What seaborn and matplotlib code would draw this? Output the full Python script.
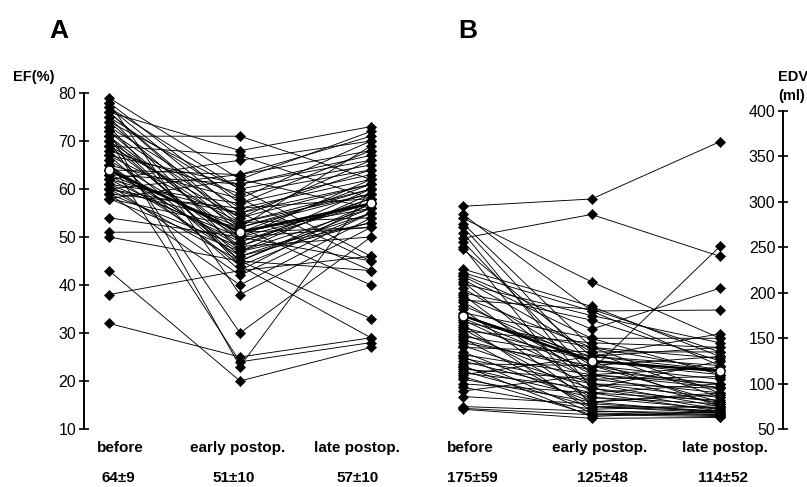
"""Individual EF and EDV courses before and after surgery (panels A and B)."""

import matplotlib

matplotlib.use("Agg")
import matplotlib.pyplot as plt
import pandas as pd
import seaborn as sns

W, H = 807, 487

time_labels = ["before", "early postop.", "late postop."]

# panel A: ejection fraction (%) per patient
ef_before = [79, 78, 78, 77, 77, 76, 76, 75, 75, 74, 74, 73, 73, 72, 72, 71,
             71, 70, 70, 70, 69, 69, 68, 68, 67, 67, 66, 66, 65, 65, 64, 64,
             63, 63, 63, 62, 62, 62, 61, 61, 61, 60, 60, 60, 59, 59, 59, 58,
             58, 58, 54, 51, 50, 43, 38, 32, 72, 69, 65, 67, 64, 60, 76, 71]
ef_early = [62, 57, 38, 55, 60, 68, 53, 47, 58, 60, 51, 56, 44, 23, 54, 71,
            50, 30, 52, 46, 67, 48, 45, 59, 53, 43, 24, 50, 58, 47, 63, 51,
            52, 61, 46, 66, 49, 55, 42, 57, 50, 63, 45, 53, 48, 56, 40, 52,
            62, 47, 50, 51, 45, 20, 43, 25, 49, 54, 44, 61, 48, 55, 52, 45]
ef_late = [72, 68, 52, 43, 65, 73, 59, 56, 70, 46, 61, 58, 29, 60, 66, 62,
           57, 50, 69, 55, 58, 60, 33, 64, 54, 57, 28, 62, 45, 59, 71, 56,
           40, 67, 53, 70, 58, 61, 55, 63, 52, 68, 57, 60, 50, 62, 54, 59,
           56, 53, 45, 52, 43, 27, 46, 29, 57, 61, 55, 66, 58, 64, 60, 56]
ef_mean = [64, 51, 57]
ef_summary = ["64±9", "51±10", "57±10"]
ef_ticks = [10, 20, 30, 40, 50, 60, 70, 80]

# panel B: end-diastolic volume (ml) per patient
edv_before = [295, 260, 282, 286, 276, 272, 266, 256, 250, 248, 226, 222, 220,
              218, 215, 212, 210, 205, 200, 198, 195, 192, 190, 186, 182, 178,
              175, 172, 170, 168, 165, 162, 160, 158, 155, 152, 150, 148, 145,
              142, 140, 135, 132, 130, 128, 125, 122, 120, 118, 116, 114, 112,
              110, 108, 105, 100, 96, 92, 86, 75, 73, 72]
edv_early = [303, 286, 212, 180, 140, 120, 95, 110, 75, 130, 185, 180, 160,
             150, 135, 100, 175, 120, 170, 90, 140, 182, 110, 125, 80, 150,
             130, 115, 105, 140, 70, 125, 85, 145, 100, 130, 75, 115, 120,
             95, 135, 80, 110, 68, 100, 90, 120, 64, 85, 105, 75, 95,
             130, 66, 80, 90, 72, 110, 78, 70, 66, 62]
edv_late = [366, 240, 150, 120, 90, 80, 72, 100, 68, 140, 130, 181, 205,
            110, 85, 75, 145, 95, 125, 70, 115, 135, 78, 110, 68, 150,
            120, 100, 90, 128, 66, 75, 72, 140, 95, 115, 70, 251, 105,
            80, 135, 90, 118, 65, 85, 100, 130, 70, 78, 108, 74, 125,
            155, 67, 88, 82, 76, 96, 70, 68, 64, 63]
edv_mean = [175, 125, 114]
edv_summary = ["175±59", "125±48", "114±52"]
edv_ticks = [50, 100, 150, 200, 250, 300, 350, 400]


def to_long(before, early, late) -> pd.DataFrame:
    rows = []
    for pid, vals in enumerate(zip(before, early, late)):
        for t, v in enumerate(vals):
            rows.append({"patient": pid, "time": t, "value": v})
    return pd.DataFrame(rows)


def draw_panel(ax, df, means, ticks) -> None:
    sns.lineplot(data=df, x="time", y="value", units="patient", estimator=None,
                 color="black", lw=0.65, marker="D", ms=5.0, mfc="black",
                 mec="black", mew=0.5, legend=False, ax=ax, clip_on=False)
    mean_df = pd.DataFrame({"time": range(len(means)), "value": means})
    sns.lineplot(data=mean_df, x="time", y="value", color="black", lw=1.8,
                 marker="o", ms=6.5, mfc="white", mec="black", mew=1.0,
                 legend=False, ax=ax, clip_on=False, zorder=5)
    ax.set_yticks(ticks)
    ax.set_xticks([])
    ax.set_xlabel("")
    ax.set_ylabel("")
    for side in ["top", "right", "bottom"]:
        ax.spines[side].set_visible(False)
    ax.spines["left"].set_linewidth(1.4)
    ax.spines["left"].set_color("black")
    ax.tick_params(axis="y", left=True, direction="inout", length=7, width=1.2,
                   colors="black", labelsize=11.5, pad=2)
    ax.patch.set_alpha(0)


sns.set_theme(style="ticks")
plt.rcParams["font.family"] = ["Liberation Sans", "DejaVu Sans"]
plt.rcParams["text.color"] = "black"

fig = plt.figure(figsize=(W / 100, H / 100), dpi=100)

# panel A axes (pixel geometry of the reference)
ax_a = fig.add_axes([84 / W, (H - 429) / H, 310 / W, 336 / H])
draw_panel(ax_a, to_long(ef_before, ef_early, ef_late), ef_mean, ef_ticks)
ax_a.set_xlim(-25 / 131, -25 / 131 + 310 / 131)
ax_a.set_ylim(10, 80)

# panel B axes, axis drawn on the right
ax_b = fig.add_axes([430 / W, (H - 429.3) / H, 353 / W, 318.6 / H])
draw_panel(ax_b, to_long(edv_before, edv_early, edv_late), edv_mean, edv_ticks)
ax_b.set_xlim(-33 / 128.5, -33 / 128.5 + 353 / 128.5)
ax_b.set_ylim(50, 400)
ax_b.spines["left"].set_position(("axes", 1.0))


def ftext(x, y, s, **kw):
    fig.text(x / W, 1 - y / H, s, **kw)


bold = dict(fontweight="bold", va="center")
ftext(59, 31, "A", fontsize=19, ha="center", **bold)
ftext(468, 31, "B", fontsize=19, ha="center", **bold)
ftext(34, 77, "EF(%)", fontsize=10.5, ha="center", **bold)
ftext(778, 77, "EDV", fontsize=10.5, ha="left", **bold)
ftext(778, 96, "(ml)", fontsize=10.5, ha="left", **bold)

for x, s in zip([120, 238, 357], time_labels):
    ftext(x, 448, s, fontsize=11, ha="center", **bold)
for x, s in zip([118, 234, 358], ef_summary):
    ftext(x, 478, s, fontsize=11, ha="center", **bold)
for x, s in zip([470, 600, 725], time_labels):
    ftext(x, 448, s, fontsize=11, ha="center", **bold)
for x, s in zip([472, 602, 723], edv_summary):
    ftext(x, 478, s, fontsize=11, ha="center", **bold)

fig.savefig("out.png", dpi=100, facecolor="white")
